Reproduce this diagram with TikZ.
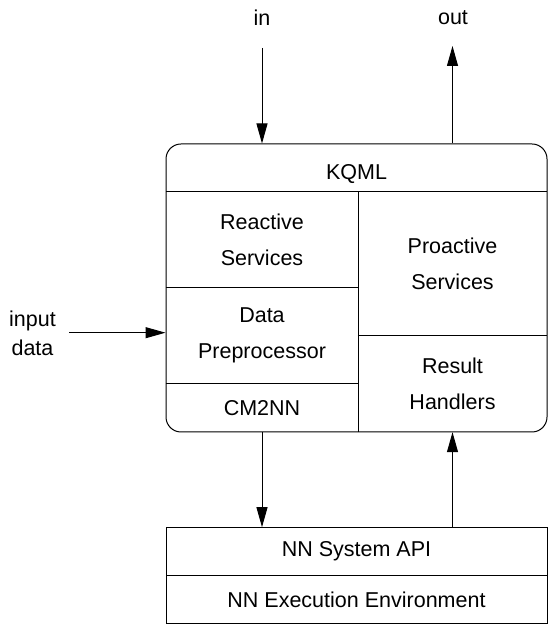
\documentclass[tikz,border=0pt]{standalone}
\usepackage{fontspec}
\setmainfont{Liberation Sans}
\usetikzlibrary{arrows.meta}
\begin{document}
\begin{tikzpicture}[x=1pt,y=1pt,
  every node/.style={font=\fontsize{21.5}{36}\selectfont},
  cell/.style={inner sep=0pt, align=center, anchor=center},
  ln/.style={line width=1pt, draw=black},
  arr/.style={line width=1pt, -{Triangle[length=20pt,width=11pt]}},
  lbl/.style={inner sep=0pt, align=center}]
\useasboundingbox (0,0) rectangle (548,624);
% main rounded box
\node[ln, rounded corners=15pt, minimum width=381pt, minimum height=288pt, inner sep=0pt] (main) at (356.5,336) {};
% cells
\node[cell, minimum width=381pt, minimum height=47.5pt, text height=23pt, text depth=0pt] (kqml) at (356.5,456.25) {KQML};
\node[cell, minimum width=192pt, minimum height=96pt] (reactive) at (262,384.5) {Reactive\\Services};
\node[cell, minimum width=192pt, minimum height=96pt] (data) at (262,288.5) {Data\\Preprocessor};
\node[cell, minimum width=192pt, minimum height=48.5pt] (cm2nn) at (262,216.25) {CM2NN};
\node[cell, minimum width=189pt, minimum height=144pt] (proactive) at (452.5,360.5) {Proactive\\Services};
\node[cell, minimum width=189pt, minimum height=96.5pt] (result) at (452.5,240.25) {Result\\Handlers};
% dividers
\draw[ln] (kqml.south west) -- (kqml.south east);
\draw[ln] (reactive.north east) -- (cm2nn.south east);
\draw[ln] (reactive.south west) -- (reactive.south east);
\draw[ln] (data.south west) -- (data.south east);
\draw[ln] (proactive.south west) -- (proactive.south east);
% bottom box
\node[cell, ln, minimum width=381pt, minimum height=48pt] (api) at (356.5,72.3) {NN System API};
\node[cell, ln, minimum width=381pt, minimum height=47.6pt] (exec) at (356.5,24.5) {NN Execution Environment};
% labels
\node[lbl] (inlbl) at (262,606) {in};
\node[lbl] (outlbl) at (453,606) {out};
\node[lbl, font=\fontsize{21.5}{29}\selectfont] (inputlbl) at (32.5,291) {input\\data};
% free ends
\coordinate (inStart) at (262,576);
\coordinate (outEnd) at (452.5,578);
\coordinate (dataStart) at (69,291.3);
% connectors
\draw[arr] (inStart) -- (inStart |- main.north);
\draw[arr] (proactive |- main.north) -- (outEnd);
\draw[arr] (dataStart) -- (dataStart -| main.west);
\draw[arr] (cm2nn.south) -- (cm2nn.south |- api.north);
\draw[arr] (result.south |- api.north) -- (result.south);
\end{tikzpicture}
\end{document}
